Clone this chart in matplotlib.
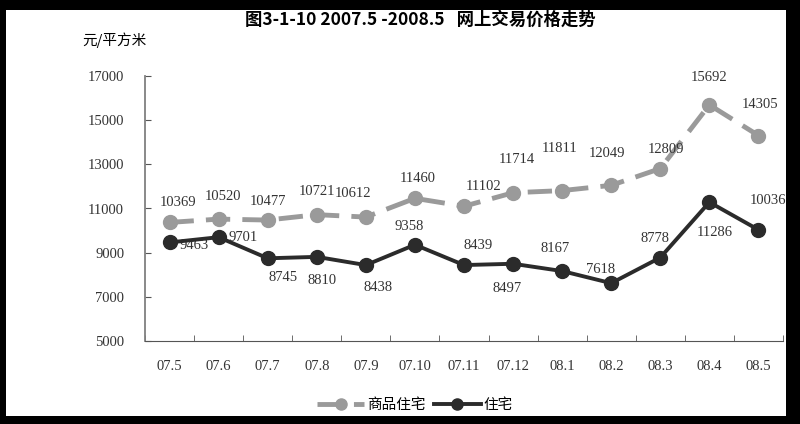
import numpy as np
import matplotlib.pyplot as plt
from matplotlib.patches import Rectangle

plt.rcParams['font.family'] = ['Noto Sans CJK SC', 'DejaVu Sans']

#%% data
months = ['07.5', '07.6', '07.7', '07.8', '07.9', '07.10', '07.11',
          '07.12', '08.1', '08.2', '08.3', '08.4', '08.5']
shangpin = [10369, 10520, 10477, 10721, 10612, 11460, 11102,
            11714, 11811, 12049, 12809, 15692, 14305]
zhuzhai = [9463, 9701, 8745, 8810, 8438, 9358, 8439,
           8497, 8167, 7618, 8778, 11286, 10036]
yticks = [5000, 7000, 9000, 11000, 13000, 15000, 17000]

# label offsets in points (dx, dy) for each point
off_sp = [(6, 14), (3, 16), (0, 13), (0, 17), (-9, 17), (2, 14), (14, 14),
          (3, 24), (-2, 30), (-3, 23), (4, 14), (0, 20), (1, 22)]
off_zz = [(18, -2), (18, 0), (11, -14), (4, -17), (9, -16), (-4, 13), (10, 14),
          (-4, -18), (-5, 16), (-8, 10), (-4, 14), (4, -22), (7, 21)]

#%% figure
fig = plt.figure(figsize=(8, 4.24), dpi=100, facecolor='black')
fig.patches.append(Rectangle((6/800, 8/424), 780/800, 406/424, transform=fig.transFigure,
                             facecolor='white', edgecolor='none', zorder=-1))
ax = fig.add_axes([145/800, 1 - 341/424, 638/800, 265/424])
ax.set_facecolor('white')

x = np.arange(len(months))
ax.plot(x, shangpin, color='#9a9a9a', lw=3.5, ls=(0, (5, 2.5)), marker='o', ms=10,
        label='商品住宅', zorder=3)
ax.plot(x, zhuzhai, color='#2b2b2b', lw=2.8, marker='o', ms=10, label='住宅', zorder=4)

num_font = dict(family=['Liberation Serif', 'DejaVu Serif'], fontsize=10.5, color='#333333')
for i in range(len(x)):
    ax.annotate(str(shangpin[i]), (x[i], shangpin[i]), xytext=off_sp[i],
                textcoords='offset points', ha='center', va='center', **num_font)
    ax.annotate(str(zhuzhai[i]), (x[i], zhuzhai[i]), xytext=off_zz[i],
                textcoords='offset points', ha='center', va='center', **num_font)

ax.set_xlim(-0.5, len(months) - 0.5)
ax.set_ylim(5000, 17000)
ax.set_yticks(yticks)
ax.set_yticklabels([str(v) for v in yticks], **num_font)
ax.set_xticks(x)
ax.set_xticklabels(months, **num_font)
ax.set_xticks(np.arange(len(months) + 1) - 0.5, minor=True)
ax.tick_params(axis='x', which='major', length=0, pad=14)
ax.tick_params(axis='x', which='minor', direction='in', length=4, color='#555555')
ax.tick_params(axis='y', direction='in', length=4, color='#555555', pad=15)

for s in ['top', 'right']:
    ax.spines[s].set_visible(False)
ax.spines['left'].set_color('#808080')
ax.spines['bottom'].set_color('#555555')
ax.spines['left'].set_linewidth(1.3)

fig.text(420/800, 1 - 20/424, '图3-1-10 2007.5 -2008.5   网上交易价格走势',
         ha='center', va='center', fontsize=12.5, fontweight='bold')
fig.text(82/800, 1 - 40/424, '元/平方米', ha='left', va='center', fontsize=10.5)

fig.legend(loc='center', bbox_to_anchor=(415/800, 1 - 405/424), ncol=2, frameon=False,
           fontsize=10.5, handlelength=3.2, handletextpad=0.2, columnspacing=0.6,
           borderpad=0, markerscale=0.8)

fig.savefig('out.png', dpi=100, facecolor='black')
